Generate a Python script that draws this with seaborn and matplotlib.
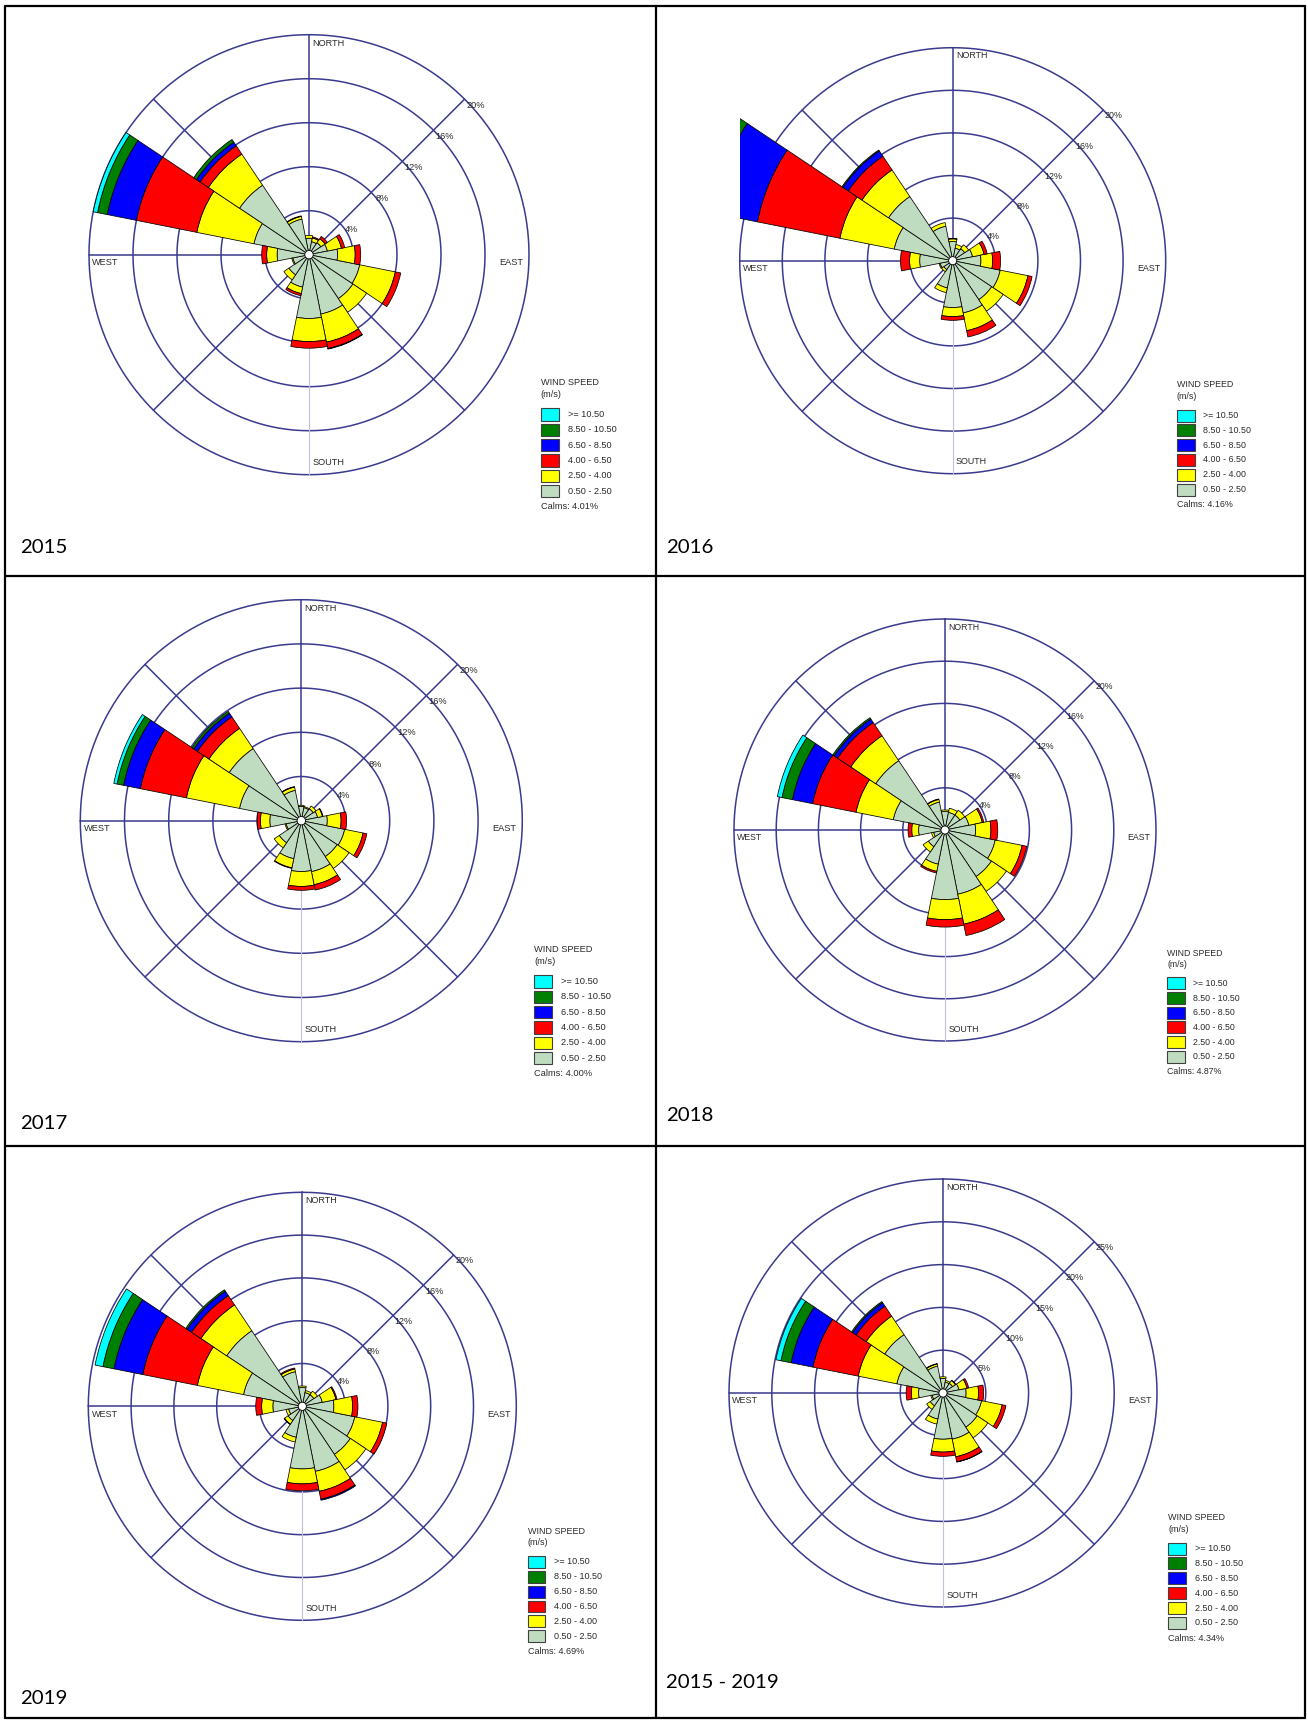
import numpy as np
import matplotlib
matplotlib.use("Agg")
import matplotlib.pyplot as plt
from matplotlib.patches import Rectangle, Circle
from matplotlib.lines import Line2D
import seaborn as sns

# ---------------------------------------------------------------------------
# Wind-rose data: frequency (%) per direction sector and wind-speed class.
# Sector order: N, NNE, NE, ENE, E, ESE, SE, SSE, S, SSW, SW, WSW, W, WNW, NW, NNW
# ---------------------------------------------------------------------------
directions = ["N", "NNE", "NE", "ENE", "E", "ESE", "SE", "SSE",
              "S", "SSW", "SW", "WSW", "W", "WNW", "NW", "NNW"]
speed_classes = ["0.50 - 2.50", "2.50 - 4.00", "4.00 - 6.50",
                 "6.50 - 8.50", "8.50 - 10.50", ">= 10.50"]

# 2015
y2015_s1 = [1.5, 1.2, 1.3, 1.7, 2.6, 4.7, 4.8, 5.5, 5.8, 3.0, 2.2, 1.5, 2.9, 5.1, 7.6, 3.3]
y2015_s2 = [0.25, 0.35, 0.45, 1.3, 1.6, 3.3, 1.5, 2.6, 2.1, 0.6, 0.55, 0.1, 0.95, 5.3, 3.4, 0.25]
y2015_s3 = [0, 0.1, 0.25, 0.3, 0.5, 0.5, 0, 0.6, 0.6, 0.2, 0, 0, 0.45, 5.6, 0.9, 0.05]
y2015_s4 = [0, 0, 0, 0, 0, 0, 0, 0.05, 0, 0, 0, 0, 0, 2.7, 0.4, 0]
y2015_s5 = [0, 0, 0, 0, 0, 0, 0, 0, 0, 0, 0, 0, 0, 0.9, 0.3, 0]
y2015_s6 = [0, 0, 0, 0, 0, 0, 0, 0, 0, 0, 0, 0, 0, 0.4, 0, 0]

# 2016
y2016_s1 = [1.8, 1.2, 1.35, 1.9, 2.65, 4.55, 4.4, 5.0, 4.4, 2.6, 1.0, 1.2, 3.1, 5.6, 7.25, 3.3]
y2016_s2 = [0.25, 0.35, 0.45, 1.1, 1.1, 2.65, 1.3, 1.7, 0.85, 0.45, 0.25, 0.1, 0.95, 5.2, 3.0, 0.35]
y2016_s3 = [0.05, 0, 0, 0.3, 0.75, 0.4, 0, 0.6, 0.35, 0, 0, 0, 0.85, 7.9, 1.55, 0]
y2016_s4 = [0, 0, 0, 0, 0, 0, 0, 0, 0, 0, 0, 0, 0, 4.5, 0.6, 0]
y2016_s5 = [0, 0, 0, 0, 0, 0, 0, 0, 0, 0, 0, 0, 0, 2.8, 0.1, 0]
y2016_s6 = [0, 0, 0, 0, 0, 0, 0, 0, 0, 0, 0, 0, 0, 0.8, 0, 0]

# 2017
y2017_s1 = [1.3, 1.2, 1.3, 1.5, 2.35, 4.0, 3.9, 4.7, 4.6, 3.5, 2.4, 1.4, 2.85, 5.7, 7.85, 2.8]
y2017_s2 = [0.1, 0.1, 0.3, 0.45, 1.25, 1.7, 1.3, 1.2, 1.35, 0.85, 0.55, 0.1, 0.85, 4.9, 2.2, 0.3]
y2017_s3 = [0, 0, 0, 0.05, 0.5, 0.35, 0, 0.5, 0.35, 0.05, 0, 0, 0.3, 4.25, 1.25, 0.05]
y2017_s4 = [0, 0, 0, 0, 0, 0, 0, 0, 0, 0, 0, 0, 0, 1.55, 0.4, 0]
y2017_s5 = [0, 0, 0, 0, 0, 0, 0, 0, 0, 0, 0, 0, 0, 0.6, 0.2, 0]
y2017_s6 = [0, 0, 0, 0, 0, 0, 0, 0, 0, 0, 0, 0, 0, 0.3, 0, 0]

# 2018
y2018_s1 = [1.75, 1.7, 1.7, 2.3, 2.9, 4.85, 5.3, 6.2, 6.6, 3.3, 1.9, 1.1, 2.5, 5.0, 7.9, 2.7]
y2018_s2 = [0.15, 0.4, 0.55, 1.3, 1.45, 2.6, 1.7, 2.9, 1.9, 0.7, 0.6, 0.2, 0.65, 3.6, 2.85, 0.25]
y2018_s3 = [0, 0, 0, 0.15, 0.65, 0.45, 0, 1.1, 0.7, 0.15, 0, 0, 0.35, 4.2, 1.5, 0.05]
y2018_s4 = [0, 0, 0, 0, 0, 0, 0, 0, 0, 0, 0, 0, 0, 1.95, 0.4, 0]
y2018_s5 = [0, 0, 0, 0, 0, 0, 0, 0, 0, 0, 0, 0, 0, 1.0, 0.15, 0]
y2018_s6 = [0, 0, 0, 0, 0, 0, 0, 0, 0, 0, 0, 0, 0, 0.45, 0, 0]

# 2019
y2019_s1 = [1.75, 1.3, 1.3, 1.9, 2.95, 5.0, 5.4, 6.2, 5.85, 2.95, 1.6, 1.3, 2.75, 5.6, 8.5, 3.3]
y2019_s2 = [0.15, 0.2, 0.4, 1.3, 1.75, 2.65, 1.75, 1.9, 1.4, 0.45, 0.4, 0.25, 1.05, 4.4, 2.9, 0.25]
y2019_s3 = [0, 0, 0, 0.1, 0.5, 0.4, 0, 0.75, 0.65, 0, 0.05, 0, 0.55, 5.2, 1.05, 0.1]
y2019_s4 = [0, 0, 0, 0, 0, 0, 0, 0.1, 0, 0, 0, 0, 0, 2.75, 0.5, 0]
y2019_s5 = [0, 0, 0, 0, 0, 0, 0, 0, 0, 0, 0, 0, 0, 1.05, 0.15, 0]
y2019_s6 = [0, 0, 0, 0, 0, 0, 0, 0, 0, 0, 0, 0, 0, 0.75, 0, 0]

# 2015 - 2019
all_s1 = [1.7, 1.3, 1.35, 1.9, 2.7, 4.6, 4.8, 5.5, 5.4, 3.1, 1.8, 1.3, 2.85, 5.5, 8.2, 3.2]
all_s2 = [0.2, 0.2, 0.4, 0.95, 1.45, 2.45, 1.5, 2.1, 1.5, 0.6, 0.5, 0.15, 0.85, 4.6, 2.6, 0.25]
all_s3 = [0, 0, 0.05, 0.2, 0.6, 0.45, 0, 0.6, 0.5, 0, 0, 0, 0.6, 5.4, 1.4, 0.05]
all_s4 = [0, 0, 0, 0, 0, 0, 0, 0.03, 0, 0, 0, 0, 0, 2.6, 0.5, 0]
all_s5 = [0, 0, 0, 0, 0, 0, 0, 0, 0, 0, 0, 0, 0, 1.2, 0.15, 0]
all_s6 = [0, 0, 0, 0, 0, 0, 0, 0, 0, 0, 0, 0, 0, 0.6, 0, 0]

calms = {"2015": 4.01, "2016": 4.16, "2017": 4.00, "2018": 4.87, "2019": 4.69, "2015 - 2019": 4.34}
panel_titles = ["2015", "2016", "2017", "2018", "2019", "2015 - 2019"]
ring_ticks_year = [4, 8, 12, 16, 20]
ring_ticks_all = [5, 10, 15, 20, 25]

panel_series = {
    "2015": [y2015_s1, y2015_s2, y2015_s3, y2015_s4, y2015_s5, y2015_s6],
    "2016": [y2016_s1, y2016_s2, y2016_s3, y2016_s4, y2016_s5, y2016_s6],
    "2017": [y2017_s1, y2017_s2, y2017_s3, y2017_s4, y2017_s5, y2017_s6],
    "2018": [y2018_s1, y2018_s2, y2018_s3, y2018_s4, y2018_s5, y2018_s6],
    "2019": [y2019_s1, y2019_s2, y2019_s3, y2019_s4, y2019_s5, y2019_s6],
    "2015 - 2019": [all_s1, all_s2, all_s3, all_s4, all_s5, all_s6],
}

# ---------------------------------------------------------------------------
# Styling
# ---------------------------------------------------------------------------
sns.set_theme(style="white")
plt.rcParams["font.family"] = ["Liberation Sans", "DejaVu Sans"]
speed_palette = sns.color_palette(["#c0dcc0", "#ffff00", "#ff0000",
                                   "#0000ff", "#008000", "#00ffff"])
RING = "#3a3a8e"
SOUTH_SPOKE = "#c2c2e0"
TXT = "#2a2a2a"

W, H = 1308, 1720
fig = plt.figure(figsize=(W / 100, H / 100), dpi=100)
fig.patch.set_facecolor("white")

# rose centre (px), outer-ring radius (px), position of the cell title (px)
layout = {
    "2015": dict(cx=309.0, cy=254.7, R=220, tx=20.5, ty=553.0),
    "2016": dict(cx=952.7, cy=260.7, R=213, tx=666.0, ty=553.0),
    "2017": dict(cx=301.3, cy=820.7, R=221, tx=20.5, ty=1129.0),
    "2018": dict(cx=945.0, cy=830.0, R=211, tx=666.0, ty=1121.0),
    "2019": dict(cx=302.3, cy=1406.3, R=214, tx=20.5, ty=1704.0),
    "2015 - 2019": dict(cx=943.0, cy=1393.0, R=214, tx=666.0, ty=1688.0),
}

sector = np.radians(22.5)
theta = np.radians(np.arange(16) * 22.5)
circle_t = np.linspace(0, 2 * np.pi, 721)


def draw_rose(name):
    g = layout[name]
    cx, cy, R = g["cx"], g["cy"], g["R"]
    ticks = ring_ticks_all if name == "2015 - 2019" else ring_ticks_year
    rmax = ticks[-1]
    s = R / 220.0
    fs = 9.2 * s * 0.72

    ax = fig.add_axes([(cx - R) / W, 1 - (cy + R) / H, 2 * R / W, 2 * R / H],
                      projection="polar")
    ax.set_theta_zero_location("N")
    ax.set_theta_direction(-1)
    ax.set_ylim(0, rmax)
    ax.set_xticks([])
    ax.set_yticks([])
    ax.grid(False)
    ax.spines["polar"].set_visible(False)
    ax.patch.set_alpha(0)

    # rings and spokes
    for r in ticks:
        ax.plot(circle_t, np.full_like(circle_t, r), color=RING, lw=1.1,
                zorder=1, clip_on=False)
    for deg in (0, 45, 135, 225, 270, 315):
        a = np.radians(deg)
        ax.plot([a, a], [0, rmax], color=RING, lw=1.1, zorder=1, clip_on=False)
    ax.plot([np.pi, np.pi], [0, rmax], color=SOUTH_SPOKE, lw=0.8, zorder=1,
            clip_on=False)

    # stacked sectors, clipped to the square frame of the rose
    clip_rect = Rectangle((0, 0), 1, 1, transform=ax.transAxes)
    bottom = np.zeros(16)
    for vals, color in zip(panel_series[name], speed_palette):
        vals = np.asarray(vals, dtype=float)
        m = vals > 0
        bars = ax.bar(theta[m], vals[m], width=sector, bottom=bottom[m],
                      color=color, edgecolor="black", linewidth=0.55, zorder=3)
        for b in bars:
            b.set_clip_path(clip_rect)
        bottom += vals

    # calm circle
    ax.add_patch(Circle((0.5, 0.5), 4.2 * s / (2 * R), transform=ax.transAxes,
                        facecolor="white", edgecolor="black", lw=0.6, zorder=6))

    # ring labels along the NE spoke
    for r in ticks:
        ax.annotate(f"{r}%", xy=(np.radians(45), r), xytext=(11 * s, -6 * s),
                    textcoords="offset pixels", ha="center", va="center",
                    fontsize=fs, color=TXT, zorder=7, annotation_clip=False)

    def ax_x(d):
        return 0.5 + d / 2

    def ax_y(d):
        return 0.5 - d / 2

    kw = dict(transform=ax.transAxes, fontsize=fs, color=TXT, clip_on=False, zorder=7)
    ax.text(ax_x(0.015), ax_y(-0.962), "NORTH", ha="left", va="center", **kw)
    ax.text(ax_x(0.015), ax_y(0.945), "SOUTH", ha="left", va="center", **kw)
    ax.text(ax_x(-0.985), ax_y(0.036), "WEST", ha="left", va="center", **kw)
    ax.text(ax_x(0.974), ax_y(0.036), "EAST", ha="right", va="center", **kw)

    # speed legend
    lx = ax_x(1.053)
    ax.text(lx, ax_y(0.583), "WIND SPEED", ha="left", va="center", **kw)
    ax.text(lx, ax_y(0.636), "(m/s)", ha="left", va="center", **kw)
    for i, (lab, col) in enumerate(zip(speed_classes[::-1], list(speed_palette)[::-1])):
        yc = ax_y(0.727 + i * 0.0695)
        ax.add_patch(Rectangle((lx, yc - 0.014), 0.0415, 0.028, transform=ax.transAxes,
                               facecolor=col, edgecolor="#404040", lw=0.8,
                               clip_on=False, zorder=7))
        ax.text(ax_x(1.176), yc, lab, ha="left", va="center", **kw)
    ax.text(lx, ax_y(1.145), f"Calms: {calms[name]:.2f}%", ha="left", va="center", **kw)

    # cell title
    fig.text(g["tx"] / W, 1 - g["ty"] / H, name, ha="left", va="baseline",
             fontsize=14.7, family=["Lato", "DejaVu Sans"], color="black")


for nm in panel_titles:
    draw_rose(nm)

# table grid around the six cells
xs = [5.5, 655.5, 1305.0]
ys = [5.5, 576.0, 1146.0, 1718.0]
for x in xs:
    fig.add_artist(Line2D([x / W, x / W], [1 - ys[0] / H, 1 - ys[-1] / H],
                          color="black", lw=1.6, transform=fig.transFigure))
for y in ys:
    fig.add_artist(Line2D([xs[0] / W, xs[-1] / W], [1 - y / H, 1 - y / H],
                          color="black", lw=1.6, transform=fig.transFigure))

fig.savefig("out.png", dpi=100, facecolor="white")
